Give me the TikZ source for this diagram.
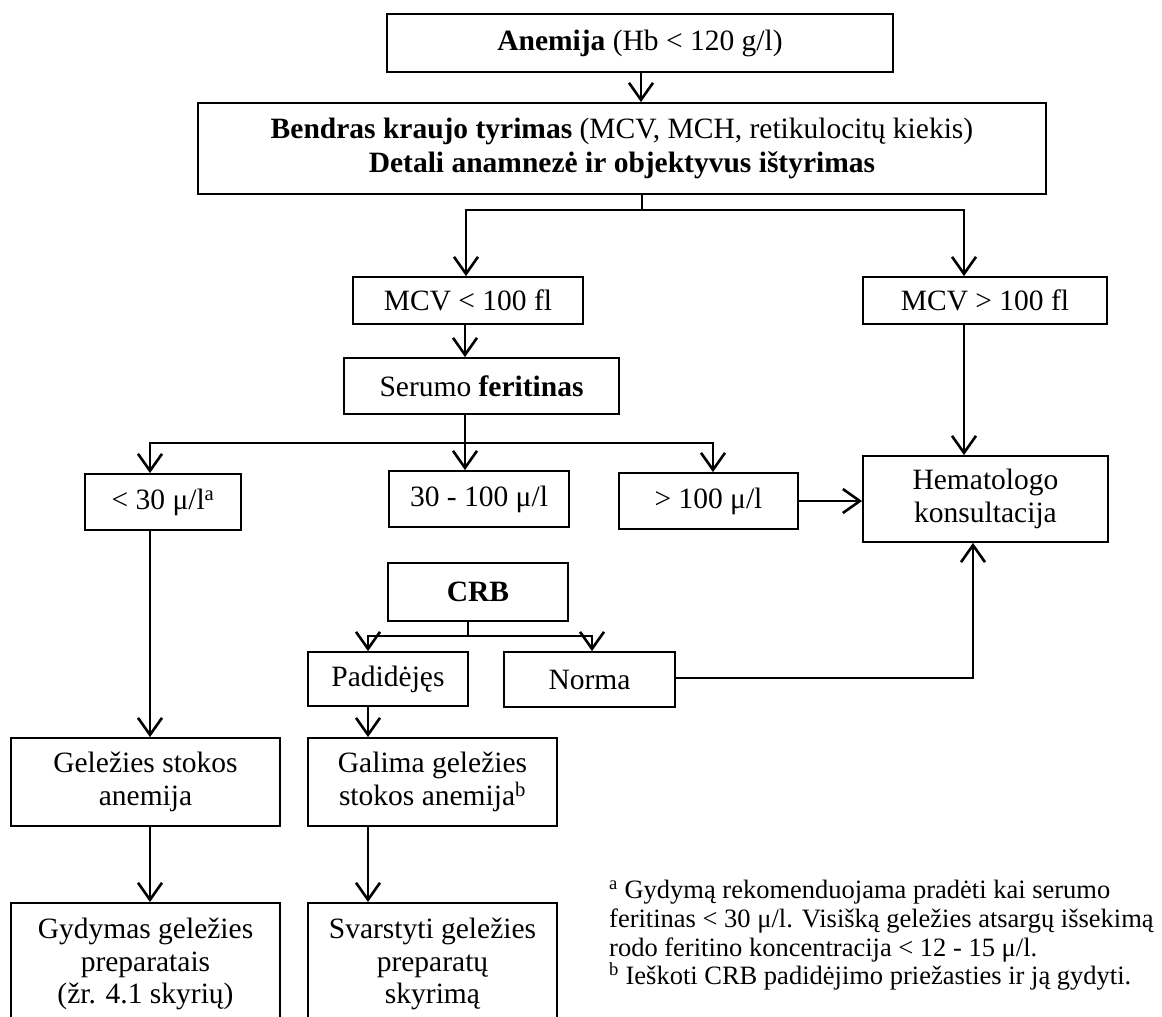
\documentclass[tikz,border=0pt]{standalone}
\usepackage{fontspec}
\setmainfont{Liberation Serif}
\usetikzlibrary{arrows.meta,calc}
\begin{document}
\begin{tikzpicture}[x=1pt,y=-1pt,
  box/.style={draw, line width=1.8pt, align=center, inner sep=0pt, font=\fontsize{29.5}{33.5}\selectfont},
  txt/.style={align=center, inner sep=0pt, font=\fontsize{29.5}{32.5}\selectfont},
  conn/.style={line width=2.6pt},
  arr/.style={conn, -{Straight Barb[length=17pt,width=24pt,line width=2.6pt]}},
  ]
\useasboundingbox[fill=white] (0,0) rectangle (1162,1017);

% boxes
\node[box, minimum width=506pt, minimum height=58pt] (anemia) at (640,43) {\textbf{Anemija} (Hb < 120 g/l)};
\node[box, minimum width=848pt, minimum height=91pt] (bendras) at (622,148.5) {\textbf{Bendras kraujo tyrimas} (MCV, MCH, retikulocitų kiekis)\\ \textbf{Detali anamnezė ir objektyvus ištyrimas}};
\node[box, minimum width=230pt, minimum height=47pt] (mcvl) at (468,300.5) {MCV < 100 fl};
\node[box, minimum width=244pt, minimum height=47pt] (mcvh) at (985,300.5) {MCV > 100 fl};
\node[box, minimum width=275pt, minimum height=56pt] (serum) at (481.5,386) {Serumo \textbf{feritinas}};
\node[box, minimum width=156pt, minimum height=56pt] (flow) at (163,502) {< 30 μ/l\textsuperscript{a}};
\node[box, minimum width=180pt, minimum height=56pt] (fmid) at (479,499) {30 - 100 μ/l};
\node[box, minimum width=179pt, minimum height=56pt] (fhigh) at (708.5,501) {> 100 μ/l};
\node[box, minimum width=245pt, minimum height=86pt] (hemat) at (985.5,499) {Hematologo\\konsultacija};
\node[box, minimum width=180pt, minimum height=58pt] (crb) at (478,592) {\textbf{CRB}};
\node[box, minimum width=160pt, minimum height=54pt] (padid) at (388,679) {Padidėjęs};
\node[box, minimum width=171pt, minimum height=55pt] (norma) at (589.5,679.5) {Norma};
\node[box, minimum width=269pt, minimum height=88pt] (gel) at (145.5,782) {Geležies stokos\\anemija};
\node[box, minimum width=249pt, minimum height=88pt] (galima) at (432.5,782) {Galima geležies\\stokos anemija\textsuperscript{b}};
\node[box, minimum width=269pt, minimum height=150pt, anchor=north] (gyd) at (145.5,902) {};
\node[txt] (gydt) at (145.5,964) {Gydymas geležies\\preparatais\\(žr. 4.1 skyrių)};
\node[box, minimum width=249pt, minimum height=150pt, anchor=north] (svar) at (432.5,902) {};
\node[txt] (svart) at (432.5,964) {Svarstyti geležies\\preparatų\\skyrimą};

% footnotes
\node[anchor=north west, align=left, inner sep=0pt, font=\fontsize{26.5}{28.8}\selectfont] (notes) at (609,880)
 {\textsuperscript{a} Gydymą rekomenduojama pradėti kai serumo\\
  feritinas < 30 μ/l. Visišką geležies atsargų išsekimą\\
  rodo feritino koncentracija < 12 - 15 μ/l.\\
  \textsuperscript{b} Ieškoti CRB padidėjimo priežasties ir ją gydyti.};

% helper coordinates
\coordinate (t0) at (641,0);
\coordinate (b1) at (642,210);
\coordinate (xa) at (466,0);
\coordinate (xb) at (964,0);
\coordinate (xc) at (465,0);
\coordinate (f1) at (465,443);
\coordinate (x150) at (150,0);
\coordinate (x713) at (713,0);
\coordinate (c1) at (468,636);
\coordinate (x368) at (368,0);
\coordinate (x592) at (592,0);
\coordinate (n1) at (973,678);

% connectors
\draw[arr] (anemia.south -| t0) -- (bendras.north -| t0);
\draw[conn] (bendras.south -| b1) -- (b1);
\draw[arr] (b1) -| (mcvl.north -| xa);
\draw[arr] (b1) -| (mcvh.north -| xb);
\draw[arr] (mcvl.south -| xc) -- (serum.north -| xc);
\draw[conn] (serum.south -| f1) -- (f1);
\draw[arr] (f1) -| (flow.north -| x150);
\draw[arr] (f1) -- (fmid.north -| f1);
\draw[arr] (f1) -| (fhigh.north -| x713);
\draw[arr] (mcvh.south -| xb) -- (hemat.north -| xb);
\draw[arr] (fhigh.east) -- (hemat.west |- fhigh.east);
\draw[conn] (crb.south -| c1) -- (c1);
\draw[arr] (c1) -| (padid.north -| x368);
\draw[arr] (c1) -| (norma.north -| x592);
\draw[arr] (norma.east |- n1) -- (n1) -- (hemat.south -| n1);
\draw[arr] (padid.south -| x368) -- (galima.north -| x368);
\draw[arr] (flow.south -| x150) -- (gel.north -| x150);
\draw[arr] (gel.south -| x150) -- (gyd.north -| x150);
\draw[arr] (galima.south -| x368) -- (svar.north -| x368);
\end{tikzpicture}
\end{document}
